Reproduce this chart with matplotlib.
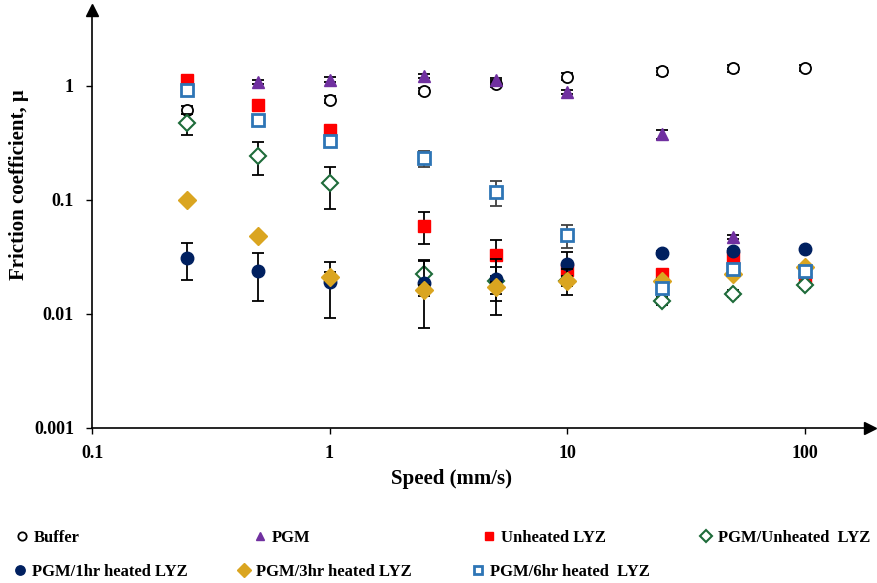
import matplotlib
matplotlib.use("Agg")
import matplotlib.pyplot as plt
from matplotlib.lines import Line2D
from matplotlib.ticker import FixedLocator, FixedFormatter, NullLocator

plt.rcParams['font.family'] = ['Liberation Serif', 'DejaVu Serif']
plt.rcParams['font.weight'] = 'bold'

# ---- data ----
speed_buffer = [0.25, 1, 2.5, 5, 10, 25, 50, 100]
mu_buffer = [0.62, 0.76, 0.91, 1.05, 1.21, 1.35, 1.43, 1.45]
err_buffer = [0.05, 0.05, 0.06, 0.07, 0.08, 0.09, 0.09, 0.09]

speed_pgm = [0.5, 1, 2.5, 5, 10, 25, 50]
mu_pgm = [1.09, 1.14, 1.22, 1.13, 0.89, 0.38, 0.0477]
err_pgm = [0.05, 0.05, 0.05, 0.05, 0.04, 0.035, 0.002]

speed_lyz = [0.25, 0.5, 1, 2.5, 5, 10, 25, 50, 100]
mu_lyz = [1.13, 0.68, 0.41, 0.0595, 0.033, 0.0243, 0.0223, 0.0309, 0.0201]
err_lyz = [0.03, 0.02, 0.02, 0.0185, 0.0116, 0.003, 0.001, 0.001, 0.001]

speed_pgm_lyz = [0.25, 0.5, 1, 2.5, 5, 10, 25, 50, 100]
mu_pgm_lyz = [0.47, 0.245, 0.14, 0.0223, 0.0195, 0.0195, 0.0131, 0.0151, 0.018]
err_pgm_lyz = [0.10, 0.08, 0.056, 0.0067, 0.0065, 0.002, 0.001, 0.001, 0.001]

speed_1hr = [0.25, 0.5, 1, 2.5, 5, 10, 25, 50, 100]
mu_1hr = [0.0308, 0.0238, 0.019, 0.0186, 0.0201, 0.0275, 0.0345, 0.036, 0.0372]
err_1hr = [0.011, 0.0107, 0.0098, 0.011, 0.0103, 0.0075, 0.001, 0.001, 0.001]

speed_3hr = [0.25, 0.5, 1, 2.5, 5, 10, 25, 50, 100]
mu_3hr = [0.101, 0.0486, 0.0213, 0.0162, 0.0171, 0.0196, 0.0195, 0.0223, 0.026]
err_3hr = [0.003, 0.002, 0.002, 0.0018, 0.002, 0.005, 0.001, 0.001, 0.001]

speed_6hr = [0.25, 0.5, 1, 2.5, 5, 10, 25, 50, 100]
mu_6hr = [0.92, 0.50, 0.33, 0.232, 0.117, 0.0493, 0.0168, 0.0247, 0.0238]
err_6hr = [0.03, 0.02, 0.02, 0.037, 0.029, 0.011, 0.001, 0.002, 0.002]

labels = ['Buffer', 'PGM', 'Unheated LYZ', 'PGM/Unheated  LYZ',
          'PGM/1hr heated LYZ', 'PGM/3hr heated LYZ', 'PGM/6hr heated  LYZ']
x_ticks = [0.1, 1, 10, 100]
x_tick_labels = ['0.1', '1', '10', '100']
y_ticks = [0.001, 0.01, 0.1, 1]
y_tick_labels = ['0.001', '0.01', '0.1', '1']

W, H = 878, 583
fig = plt.figure(figsize=(W / 100, H / 100), dpi=100)
ax = fig.add_axes([92 / W, (H - 428) / H, (870 - 92) / W, (428 - 10) / H])
ax.set_xscale('log')
ax.set_yscale('log')
ax.set_xlim(0.1, 10 ** ((870 - 92) / 237.5 - 1))
ax.set_ylim(0.001, 10 ** ((428 - 10) / 114.0 - 3))

styles = [
    dict(marker='o', mfc='white', mec='black', ms=8, mew=1.3),
    dict(marker='^', mfc='#7030A0', mec='#7030A0', ms=8.5, mew=1),
    dict(marker='s', mfc='#FF0000', mec='#FF0000', ms=8, mew=1),
    dict(marker='D', mfc='white', mec='#1E6B3A', ms=8.5, mew=1.5),
    dict(marker='o', mfc='#002060', mec='#002060', ms=9, mew=1),
    dict(marker='D', mfc='#DAA520', mec='#DAA520', ms=9.5, mew=1),
    dict(marker='s', mfc='white', mec='#2E75B6', ms=8, mew=2),
]
series = [
    (speed_buffer, mu_buffer, err_buffer),
    (speed_pgm, mu_pgm, err_pgm),
    (speed_lyz, mu_lyz, err_lyz),
    (speed_pgm_lyz, mu_pgm_lyz, err_pgm_lyz),
    (speed_1hr, mu_1hr, err_1hr),
    (speed_3hr, mu_3hr, err_3hr),
    (speed_6hr, mu_6hr, err_6hr),
]
ecols = ['black', 'black', 'black', 'black', 'black', 'black', '#404040']
handles = []
for i, ((xs, ys, es), st) in enumerate(zip(series, styles)):
    ax.errorbar(xs, ys, yerr=es, fmt='none', ecolor=ecols[i], elinewidth=1.3,
                capsize=4, capthick=1.3, zorder=2 + 2 * i)
    h, = ax.plot(xs, ys, linestyle='none', zorder=3 + 2 * i, **st)
    handles.append(h)

# axes styling
for s in ['top', 'right']:
    ax.spines[s].set_visible(False)
for s in ['left', 'bottom']:
    ax.spines[s].set_linewidth(1.2)
ax.xaxis.set_major_locator(FixedLocator(x_ticks))
ax.xaxis.set_major_formatter(FixedFormatter(x_tick_labels))
ax.yaxis.set_major_locator(FixedLocator(y_ticks))
ax.yaxis.set_major_formatter(FixedFormatter(y_tick_labels))
ax.xaxis.set_minor_locator(NullLocator())
ax.yaxis.set_minor_locator(NullLocator())
ax.tick_params(axis='both', direction='out', length=4, width=1, labelsize=13)
ax.tick_params(axis='x', pad=8)
ax.tick_params(axis='y', pad=9)
for lab in ax.get_xticklabels() + ax.get_yticklabels():
    lab.set_fontweight('bold')

# arrows at axis ends
ax.plot([0], [1], marker='^', color='black', ms=9, transform=ax.transAxes, clip_on=False)
ax.plot([1], [0], marker='>', color='black', ms=9, transform=ax.transAxes, clip_on=False)

ax.set_xlabel('Speed (mm/s)', fontsize=15, fontweight='bold')
ax.set_ylabel('Friction coefficient, \u03bc', fontsize=15, fontweight='bold')
ax.xaxis.set_label_coords((452 - 92) / 780, (428 - 469) / 418)
ax.yaxis.set_label_coords((29 - 92) / 780, (428 - 185) / 418)

# legend entries (Excel style, placed individually)
pos = [(14, 538), (252, 538), (481, 538), (698, 538),
       (12, 572), (236, 572), (470, 572)]
for h, lab, (px, py) in zip(handles, labels, pos):
    lh = Line2D([], [], linestyle='none', marker=h.get_marker(),
                markerfacecolor=h.get_markerfacecolor(),
                markeredgecolor=h.get_markeredgecolor(),
                markersize=h.get_markersize() * 0.75, markeredgewidth=h.get_markeredgewidth())
    fig.legend(handles=[lh], labels=[lab], loc='center left',
               bbox_to_anchor=(px / W, 1 - py / H), frameon=False,
               handlelength=1.0, handletextpad=0.2, borderpad=0, borderaxespad=0,
               prop=dict(family='Liberation Serif', weight='bold', size=12))

fig.savefig('out.png', dpi=100)
